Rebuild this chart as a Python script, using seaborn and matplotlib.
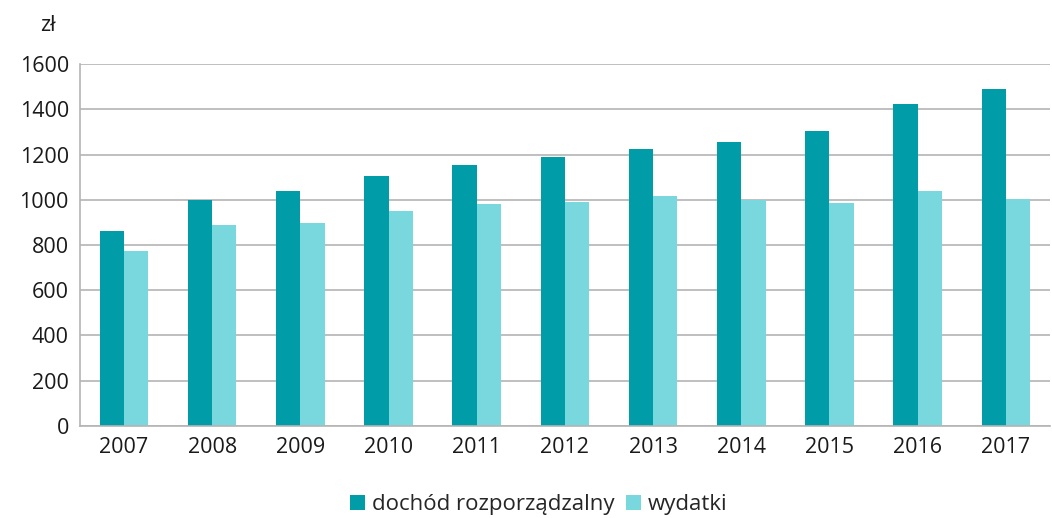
import pandas as pd
import matplotlib.pyplot as plt
import seaborn as sns

years = ["2007", "2008", "2009", "2010", "2011", "2012", "2013", "2014", "2015", "2016", "2017"]
dochod = [862, 1000, 1040, 1105, 1155, 1188, 1226, 1258, 1304, 1422, 1490]
wydatki = [773, 888, 899, 949, 981, 989, 1017, 1000, 984, 1039, 1003]
series_names = ["dochód rozporządzalny", "wydatki"]
colors = ["#009DA8", "#78D8DD"]

df = pd.DataFrame({
    "rok": years * 2,
    "zl": dochod + wydatki,
    "seria": [series_names[0]] * len(years) + [series_names[1]] * len(years),
})

sns.set_style("white")
plt.rcParams["font.family"] = ["Open Sans", "DejaVu Sans"]

fig, ax = plt.subplots(figsize=(10.52, 5.18), dpi=100)
fig.subplots_adjust(left=0.076, right=0.998, top=0.876, bottom=0.178)

sns.barplot(data=df, x="rok", y="zl", hue="seria", palette=colors, saturation=1,
            width=0.55, gap=0, linewidth=0, ax=ax)

ax.set_ylim(0, 1600)
ax.set_yticks(range(0, 1601, 200))
ax.set_xlim(-0.5, len(years) - 0.5)
ax.grid(axis="y", color="#B4B4B4", linewidth=1.2)
ax.set_axisbelow(True)
ax.set_xlabel("")
ax.set_ylabel("")
ax.tick_params(axis="both", length=0, labelsize=15.5, colors="#1a1a1a", pad=8)

for s in ["top", "right"]:
    ax.spines[s].set_visible(False)
ax.spines["left"].set_color("#B4B4B4")
ax.spines["bottom"].set_color("#B4B4B4")
ax.spines["left"].set_linewidth(1.2)
ax.spines["bottom"].set_linewidth(1.2)

fig.text(0.053, 0.95, "zł", fontsize=15.5, ha="right", va="center", color="#1a1a1a")

ax.legend(loc="lower center", bbox_to_anchor=(0.473, -0.272), ncol=2, frameon=False,
          fontsize=16, handlelength=0.7, handleheight=0.7, handletextpad=0.3,
          columnspacing=0.5, borderaxespad=0)

fig.savefig("out.png", dpi=100)
